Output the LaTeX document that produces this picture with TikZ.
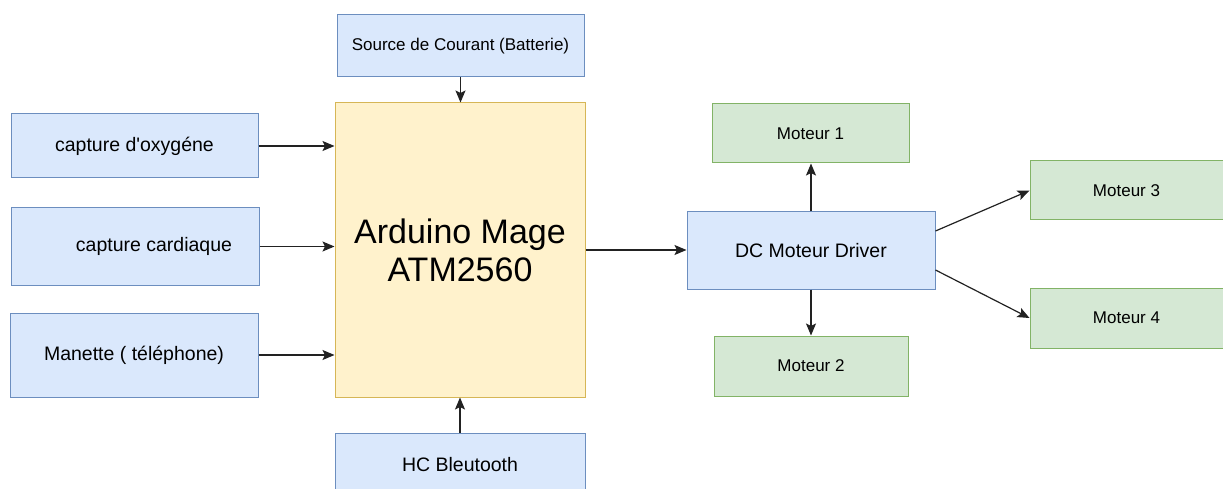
\documentclass[tikz,border=0pt]{standalone}
\usepackage{fontspec}
\setmainfont{Liberation Sans}[Ligatures=TeXOff]
\usetikzlibrary{arrows.meta,calc}
\definecolor{bfill}{HTML}{DAE8FC}
\definecolor{bline}{HTML}{6C8EBF}
\definecolor{yfill}{HTML}{FFF2CC}
\definecolor{yline}{HTML}{D6B656}
\definecolor{gfill}{HTML}{D5E8D4}
\definecolor{gline}{HTML}{82B366}
\definecolor{arr}{HTML}{222222}
\tikzset{
  box/.style={rectangle, inner sep=0pt, line width=1pt, text=black},
  bluebox/.style={box, fill=bfill, draw=bline, font=\fontsize{19.5}{23}\selectfont},
  srcbox/.style={box, fill=bfill, draw=bline, font=\fontsize{17}{20}\selectfont},
  greenbox/.style={box, fill=gfill, draw=gline, font=\fontsize{17}{20}\selectfont},
  yelbox/.style={box, fill=yfill, draw=yline, align=center, font=\fontsize{34}{38}\selectfont},
  conn/.style={draw=arr, line width=1.2pt, -{Stealth[length=12pt,width=10pt,inset=2.5pt]}}
}
\begin{document}
\begin{tikzpicture}[x=1pt,y=-1pt]
\clip (0,0) rectangle (1223,489);
\fill[white] (0,0) rectangle (1223,489);

\node[bluebox, minimum width=247pt, minimum height=64pt] (oxy) at (134.5,146) {capture d'oxygéne};
\node[bluebox, minimum width=248pt, minimum height=77pt] (card) at (135,246.5) {\hspace*{38pt}capture cardiaque};
\node[bluebox, minimum width=248pt, minimum height=84pt] (man) at (134,355) {Manette ( téléphone)};
\node[yelbox, minimum width=250pt, minimum height=294pt] (ard) at (460,250) {Arduino Mage\\ATM2560};
\node[srcbox, minimum width=247pt, minimum height=62pt] (src) at (460.5,46) {Source de Courant (Batterie)};
\node[bluebox, minimum width=250pt, minimum height=64pt] (hc) at (460,465) {HC Bleutooth};
\node[bluebox, minimum width=248pt, minimum height=77pt] (drv) at (811,250.5) {DC Moteur Driver};
\node[greenbox, minimum width=197pt, minimum height=59pt] (m1) at (810.5,133.5) {Moteur 1};
\node[greenbox, minimum width=194pt, minimum height=60pt] (m2) at (811,366) {Moteur 2};
\node[greenbox, minimum width=193pt, minimum height=59pt] (m3) at (1126.5,190.5) {Moteur 3};
\node[greenbox, minimum width=193pt, minimum height=60pt] (m4) at (1126.5,318) {Moteur 4};

\draw[conn] (oxy.east) -- (oxy.east -| ard.west);
\draw[conn] (card.east) -- (card.east -| ard.west);
\draw[conn] (man.east) -- (man.east -| ard.west);
\draw[conn] (src.south) -- (src.south |- ard.north);
\draw[conn] (hc.north) -- (hc.north |- ard.south);
\draw[conn] (ard.east) -- (ard.east -| drv.west);
\draw[conn] (drv.north) -- (drv.north |- m1.south);
\draw[conn] (drv.south) -- (drv.south |- m2.north);
\draw[conn] ($(drv.north east)!0.25!(drv.south east)$) -- (m3.west);
\draw[conn] ($(drv.north east)!0.75!(drv.south east)$) -- (m4.west);
\end{tikzpicture}
\end{document}
